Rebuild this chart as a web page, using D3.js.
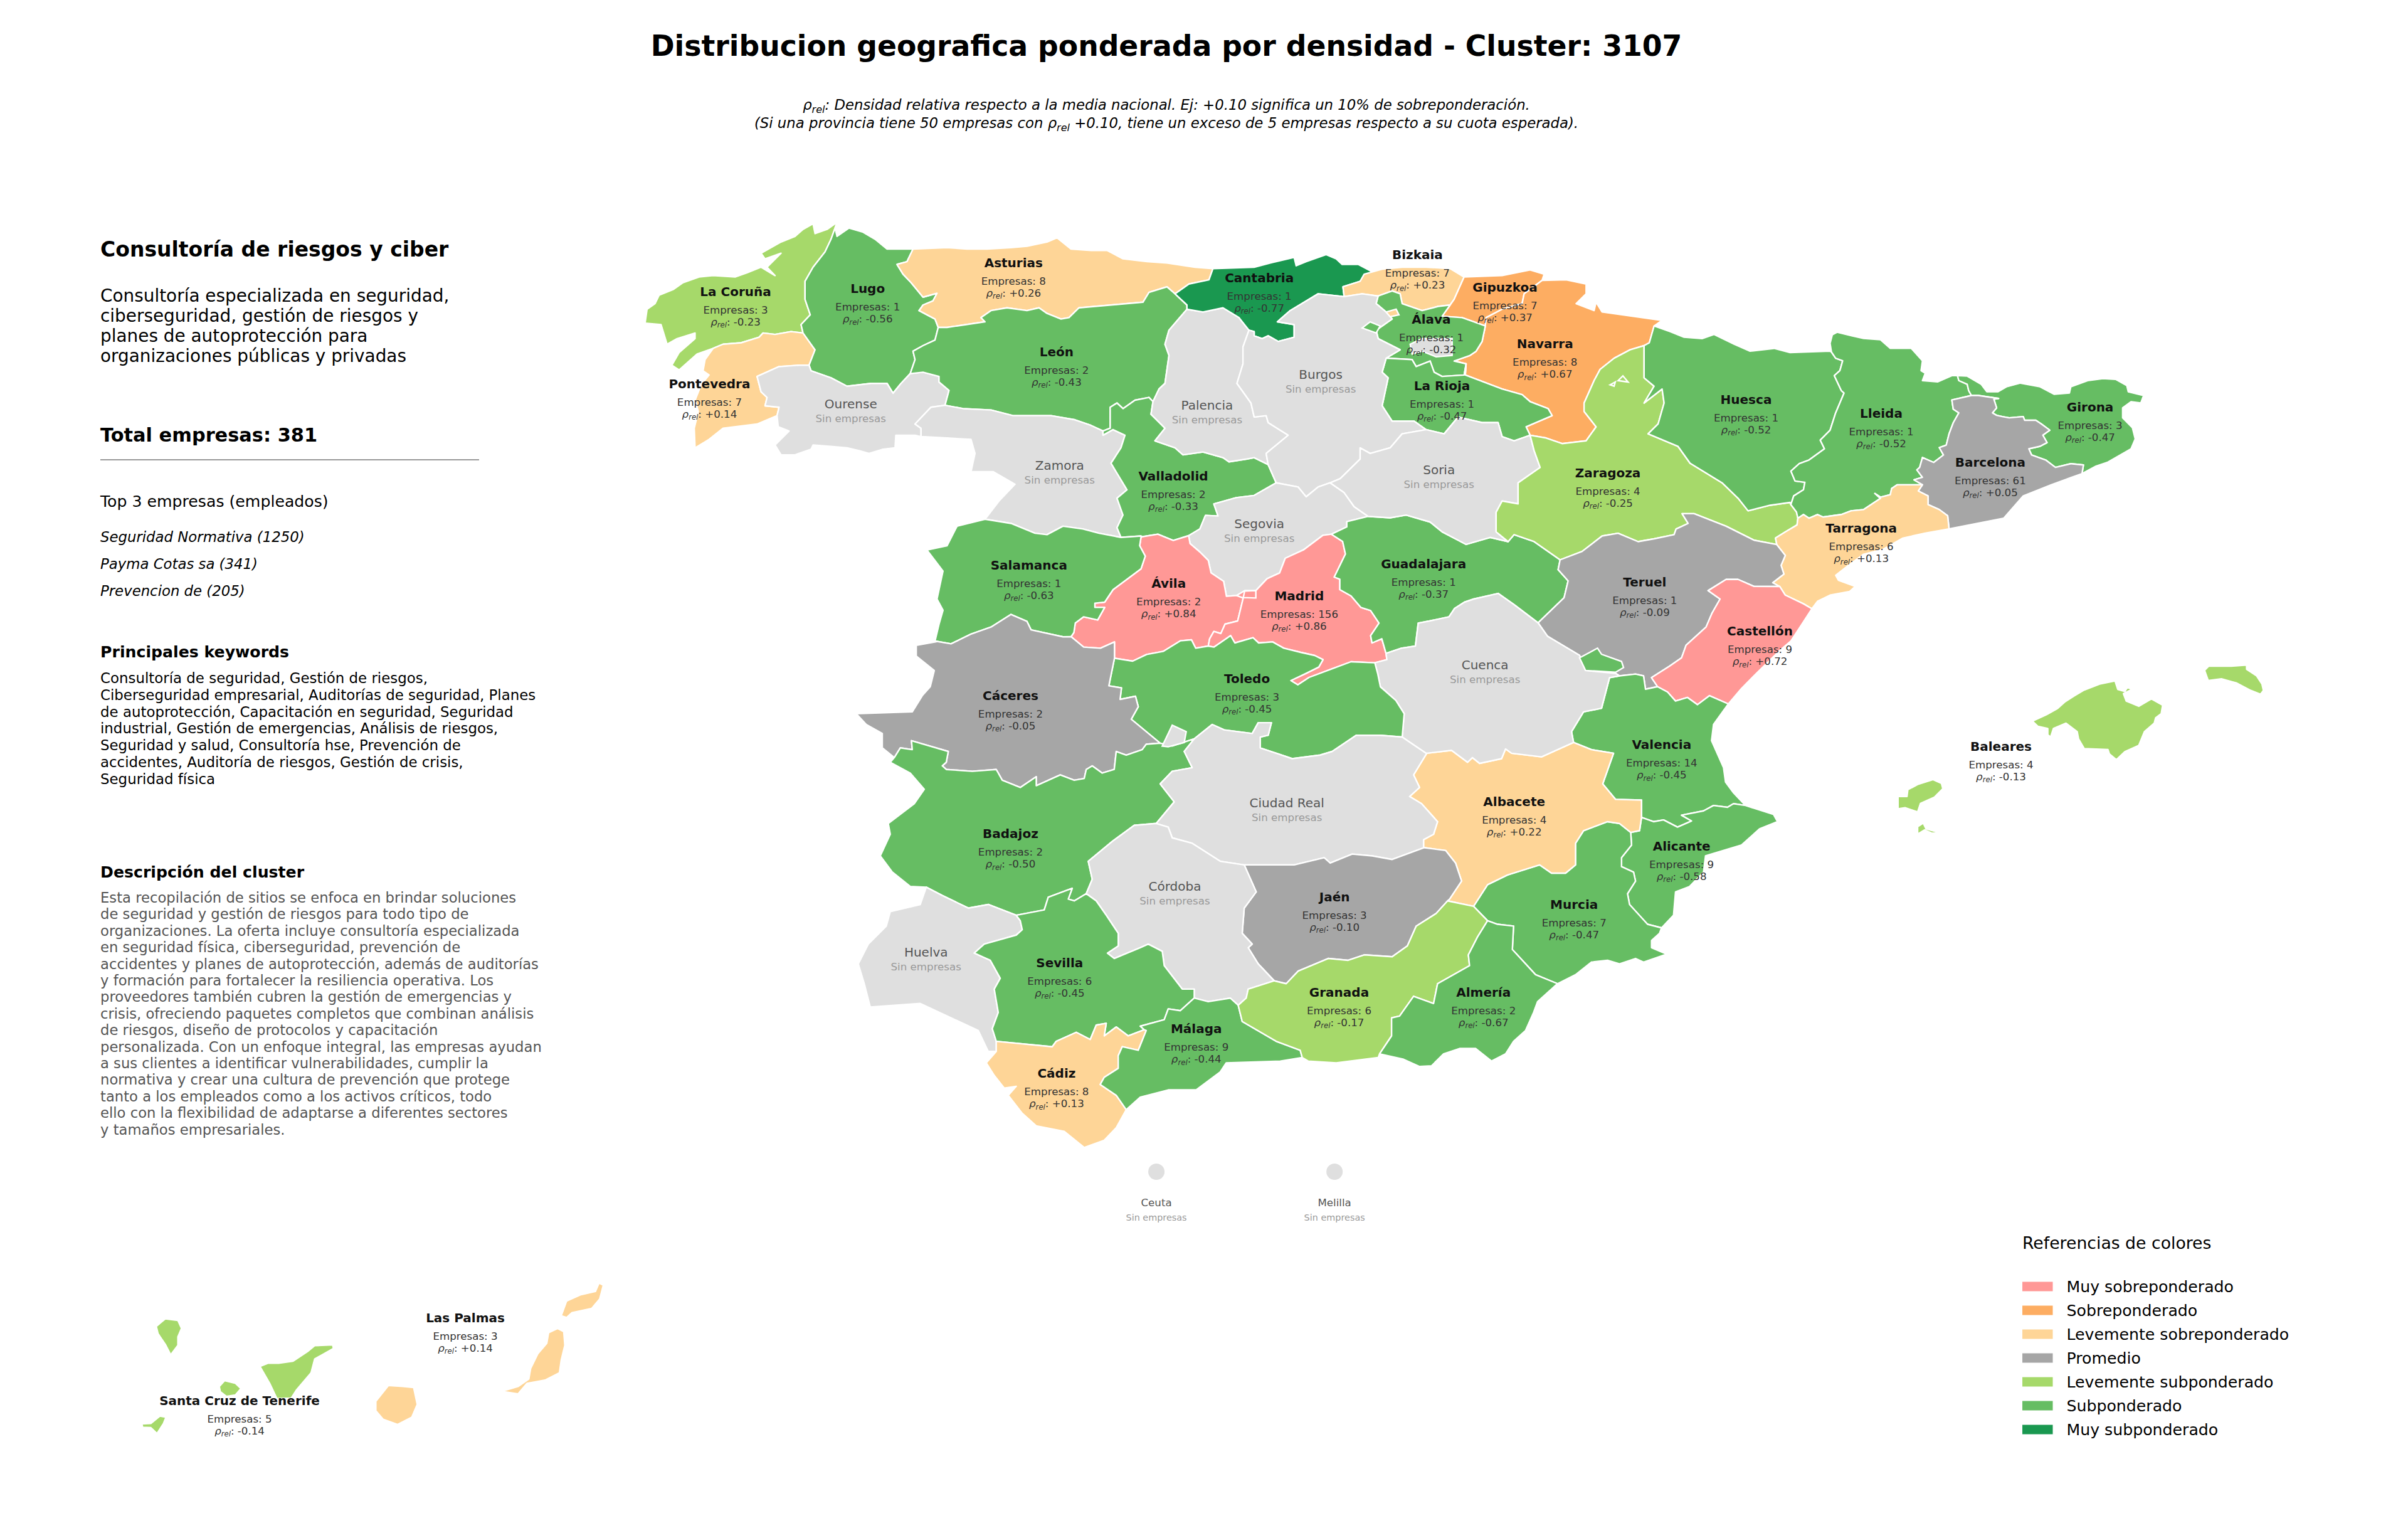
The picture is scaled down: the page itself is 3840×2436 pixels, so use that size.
<!DOCTYPE html>
<html><head><meta charset="utf-8">
<script src="https://cdn.jsdelivr.net/npm/d3@7"></script>
<style>html,body{margin:0;background:#fff}svg{display:block}text{font-family:"DejaVu Sans"}</style>
</head><body><svg id="c" width="3840" height="2436"></svg>
<script>
// ---------- chart values ----------
const provinces = ["La Coruña","Pontevedra","Lugo","Ourense","Asturias","León","Zamora","Valladolid","Palencia","Cantabria","Bizkaia","Gipuzkoa","Navarra","Álava","La Rioja","Burgos","Segovia","Ávila","Madrid","Guadalajara","Soria","Zaragoza","Huesca","Lleida","Girona","Barcelona","Tarragona","Teruel","Castellón","Valencia","Alicante","Murcia","Albacete","Cuenca","Toledo","Salamanca","Cáceres","Badajoz","Ciudad Real","Jaén","Córdoba","Huelva","Sevilla","Cádiz","Málaga","Granada","Almería","Baleares","Las Palmas","Santa Cruz de Tenerife"];
const empresas = [3,7,1,null,8,2,null,2,null,1,7,7,8,1,1,null,null,2,156,1,null,4,1,1,3,61,6,1,9,14,9,7,4,null,3,1,2,2,null,3,null,null,6,8,9,6,2,4,3,5];
const rhoRel = [-0.23,0.14,-0.56,null,0.26,-0.43,null,-0.33,null,-0.77,0.23,0.37,0.67,-0.32,-0.47,null,null,0.84,0.86,-0.37,null,-0.25,-0.52,-0.52,-0.47,0.05,0.13,-0.09,0.72,-0.45,-0.58,-0.47,0.22,null,-0.45,-0.63,-0.05,-0.50,null,-0.10,null,null,-0.45,0.13,-0.44,-0.17,-0.67,-0.13,0.14,-0.14];
const labelX = [479,462,565,554,660,688,690,764,786,820,923,980,1006,932,939,860,820,761,846,927,937,1047,1137,1225,1361,1296,1212,1071,1146,1082,1095,1025,986,967,812,670,658,658,838,869,765,603,690,688,779,872,966,1303,303,156];
const labelY = [190,250,188,263,171,229,303,310,264,181,166,187,224,208,251,244,341,380,388,367,306,308,260,269,265,301,344,379,411,485,551,589,522,433,442,368,453,543,523,584,577,620,627,699,670,646,646,486,858,912];
const legendLabels = ["Muy sobreponderado","Sobreponderado","Levemente sobreponderado","Promedio","Levemente subponderado","Subponderado","Muy subponderado"];
const legendColors = ["#ff9896","#fdad62","#fed597","#a6a6a6","#a6d96a","#66bd63","#1a9850"];
const noDataColor = "#dfdfdf";
const autonomousCities = ["Ceuta","Melilla"];
const citiesX = [753,869];
const densityColor = d3.scaleThreshold().domain([-0.7,-0.3,-0.12,0.1,0.3,0.7]).range(legendColors.slice().reverse());

// ---------- map outlines: shared borders, one string per border, in six map sheets ----------
const sheets = {
 A:[[0,1568],[1000,2000],[0,1568],[330,1030]], B:[[0,1568],[2000,3000],[0,1568],[330,1030]],
 C:[[0,1568],[1340,2340],[0,1568],[1000,1900]], D:[[0,1568],[2200,3200],[0,1568],[1000,1900]],
 E:[[0,1568],[100,1000],[0,1010],[2000,2340]], F:[[0,1568],[3000,3700],[0,1039],[1030,1380]],
 G:[[0,1568],[2780,3480],[0,1568],[500,1120]], H:[[0,1568],[1650,2350],[0,1200],[780,1180]]
};
const borders = {
gaC:"A 525,55 500,80 470,95 465,60 440,80 420,105 385,125 335,165 345,185 385,165 350,215 370,245 335,215 300,235 270,250 215,245 180,250 140,270 115,295 80,315 70,345 50,365 45,415 85,420 100,490 125,470 170,450 170,470 130,520 112,565 130,582 175,525 215,505",
gaPo:"A 215,505 240,490 285,485 330,465 340,450 370,455 410,445 440,450",
gaLu:"A 440,450 435,420 458,385 445,330 445,265 465,215 495,160 510,115 525,55",
poC:"A 215,505 195,545 190,585 205,600 185,635 170,690 178,730 168,790 170,860 205,830 240,790 325,775 375,745",
poLu:"A 440,450 470,510 455,565",
poOu:"A 455,565 430,565 380,570 325,605 335,660 350,680 345,710 380,715 375,745",
luC:"A 525,55 520,75 525,105 555,75 590,90 620,115 650,150 715,150",
luAs:"A 715,150 700,195 675,205 690,240 710,270 740,322 775,308 765,335 740,350 730,370 770,400 778,430",
luLe:"A 778,430 770,475 740,495 715,515 720,545 708,595",
luOu:"A 708,595 685,630 665,665 650,630 610,630 580,635 550,640 510,610 460,585 455,565",
ouS:"A 375,745 378,785 405,800 370,850 385,885 420,885 460,865 465,850 510,855 550,860 580,870 605,880 640,865 670,860 672,815 720,815 735,820",
ouZa:"A 735,820 735,790 720,775 760,715 795,708",
ouLe:"A 795,708 805,655 780,625 780,605 740,590 708,595",
asC:"A 715,150 800,145 850,150 900,150 960,145 1000,140 1050,125 1075,110 1110,150 1160,155 1200,155 1240,185 1300,195 1350,200 1420,215 1465,220",
asCa:"A 1465,220 1455,260 1405,275 1370,310",
asLe:"A 1370,310 1350,285 1305,305 1290,340 1210,350 1130,360 1105,395 1085,400 1050,380 1030,360 1000,370 950,360 910,370 885,395 895,410 800,430 778,430",
leCa:"A 1370,310 1400,350 1400,365",
lePa:"A 1400,365 1355,440 1345,490 1355,530 1345,630 1330,650 1315,695",
leVa:"A 1315,695 1305,680 1270,690 1240,720 1225,700 1208,715 1208,790 1190,800",
leZa:"A 1190,800 1160,780 1120,760 1060,745 1020,745 965,745 910,725 840,720 795,708",
zaV:"A 1190,800 1190,815 1215,795 1245,815 1235,860 1210,915 1250,1010 1225,1040 1240,1100 1225,1145 1235,1180",
zaSa:"A 1235,1180 1180,1165 1140,1150 1090,1140 1050,1170 1020,1165 960,1130 895,1115",
zaPt:"A 895,1115 930,1050 970,990 915,945 860,945 870,880 860,830 800,825 735,820",
vaSa:"A 1235,1180 1285,1175",
vaAv:"H 380,228 440,215 495,245 550,222",
vaSe:"H 550,222 590,190 610,125 655,128 640,70 720,40 | B 0,1030 55,985",
vaBu:"B 55,985 35,920",
vaPa:"B 35,920 0,895 | A 1550,900 1505,910 1490,895 1440,875 1390,885 1370,860 1320,835 1345,790 1310,740 1315,695",
paCa:"A 1400,365 1440,375 1490,360 1530,395 1555,440",
paBu:"A 1555,440 1540,500 1540,560 1525,630 1560,700 | B 0,750 30,745 35,770 85,815 30,880 35,920",
caC:"A 1465,220 1568,215 | B 40,200 100,180 105,210 130,195 180,170 205,185 220,205 260,205 300,235 300,250 222,285",
caBi:"B 222,285 225,320",
caBu:"B 225,320 160,310 90,370 58,410 100,420 100,465 60,480 35,460 20,470 0,460 | A 1568,445 1555,440",
biC:"B 222,285 265,265 275,240 320,222 370,215 430,215 490,220 525,250",
biGi:"B 525,250 500,330 490,350",
biAl:"B 490,350 460,355 420,370 370,345 365,310 345,300 310,318",
biBu:"B 310,318 270,310 225,320",
giC:"B 525,250 620,245 690,225 725,240 720,262",
giNa:"B 720,262 675,310 670,345 620,365 580,395 578,425",
giAl:"B 578,425 520,395 470,390 490,350",
naC:"B 720,262 780,260 830,275 830,310 805,345 850,370 855,340 870,375 920,385 1020,405 1000,425",
naHu:"B 1000,425 988,485 975,495",
naZa:"B 975,495 940,510 900,540 865,580 850,620 825,700 825,730 855,785 830,835 770,845 730,825 690,815",
naRi:"B 690,815 680,785 745,745 735,720 690,695 670,670 620,650 528,600 530,560",
naAl:"B 530,560 500,550 540,530 555,515 570,480 578,425",
alBu:"B 310,318 305,345 330,375 345,400 305,440 310,470 365,510 330,540",
alRi:"B 330,540 395,545 405,570 440,550 450,590 470,605 525,600 530,560",
riBu:"B 330,540 320,590 335,610 320,710 345,765 400,765 430,795",
riSo:"B 430,795 475,810 510,750 570,770 610,770 620,820 650,835 690,815",
buSo:"B 430,795 370,810 340,860 290,880 265,860 265,900 215,970 190,985",
buSe:"B 190,985 160,1000 130,1035 110,1000 55,985",
seSo:"B 190,985 225,1020 250,1070 285,1105",
seGu:"H 1190,130 1115,155 1115,180 1060,215",
seMa:"H 1060,215 1030,220 960,290 895,330 875,400 830,428 790,485 750,485 722,508",
seAv:"H 722,508 685,512 675,440 630,400 620,340 590,300 555,260 550,222",
avSa:"H 380,228 375,270 395,320 380,380 280,480 250,540 215,545 215,565 250,565 225,625 175,610 145,640 140,685 130,705",
avCc:"H 130,705 175,755 235,760 285,730 285,808",
avTo:"H 285,808 350,822 400,790 460,775 520,725 560,720 575,760 620,750",
avMa:"H 620,750 625,715 640,680 665,690 680,645 725,630 745,520 722,508",
maTo:"H 620,750 640,755 700,700 715,735 780,710 800,735 850,730 890,760 950,780 1000,795 1030,815 1015,850 970,880 915,915 940,935 980,900 1060,860 1130,825 1215,830",
maCu:"H 1215,830 1258,815 1255,785",
maGu:"H 1255,785 1240,715 1205,735 1200,700 1230,640 1200,580 1165,565 1130,510 1090,480 1090,430 1070,420 1110,310 1100,250 1060,215",
guSo:"B 285,1105 340,1110 380,1100 440,1125 470,1160 510,1190 530,1205 590,1180 635,1195",
guZa:"B 635,1195 650,1170 700,1195 765,1260",
guTe:"B 765,1260 760,1295 785,1335 775,1395 710,1485",
guCu:"B 710,1485 650,1420 610,1380 549,1400 | H 1535,540 1500,570 1480,610 1410,630 1370,640 1360,750 1310,760 1255,785",
soZa:"B 690,815 700,870 715,930 660,985 660,1060 620,1050 605,1090 605,1160 635,1195",
zaHu:"B 975,495 975,610 1000,640 975,700 1020,650 1025,700 1010,775 985,810 1060,855 1090,915 1170,985 1210,1040 1235,1085 1290,1065 1340,1055",
zaLl:"G 170,770 190,800 195,825",
zaTa:"G 195,825 192,852 150,880 115,905 120,932",
zaTe:"B 1305,1205 1250,1190 1180,1140 1100,1095 1070,1095 1085,1130 1055,1150 1050,1170 1000,1185 960,1195 910,1165 870,1175 820,1230 765,1260",
huC:"B 1000,425 1040,445 1075,465 1120,470 1150,455 1200,490 1240,515 1300,505 1340,520 1440,515",
huLl:"G 315,155 330,180 355,190 345,230 325,250 350,310 360,320 330,400 310,470 275,510 290,545 235,590 200,605 170,635 185,675 220,680 215,710 180,735 170,770",
llC:"G 315,155 310,120 318,85 335,75 390,90 430,100 490,105 525,140 600,140 640,190 635,230 650,240 640,270 695,275 745,250 765,250",
llGi:"G 765,250 770,270 800,285 805,310 815,330",
llBa:"G 815,330 745,348 750,385 770,400 750,440 735,485 725,530 700,540 715,570 680,600 640,580 630,620 620,630 640,660 610,670 640,690",
llTa:"G 640,690 550,690 530,705 525,730 490,740 470,725 490,745 430,790 385,795 350,810 285,820 265,810 235,825 215,810 195,825",
grC:"G 765,250 800,252 850,285 870,315 910,315 940,295 990,280 1060,295 1110,325 1165,320 1170,295 1230,270 1285,262 1330,265 1370,290 1375,315 1430,330 1420,360 1385,355 1355,380 1355,420 1390,460 1400,505 1385,545 1300,600 1260,615 1210,645",
grBa:"G 1210,645 1215,610 1170,605 1115,620 1080,590 1030,570 1020,545 1060,535 1085,520 1070,490 1095,470 1065,445 1045,430 1005,430 1000,415 950,420 925,415 905,410 890,400 905,380 895,345 912,342 840,330 815,330",
baC:"G 1210,645 1100,690 1000,735 930,825 735,868",
baTa:"G 735,868 730,815 700,790 660,770 660,735 625,715 640,690",
taC:"G 735,868 650,885 570,905 500,950 430,970 370,1020 330,1055 340,1075 400,1100 380,1120 310,1135 265,1160 245,1190",
taCs:"G 245,1190 215,1170 150,1135 130,1100",
taTe:"G 130,1100 105,1085 145,1050 135,1015 150,975 120,932",
teCs:"G 130,1100 | B 1250,1355 1210,1330 1180,1330 1135,1370 1165,1400 1145,1450 1130,1500 1080,1565 | D 755,85 725,108 680,140 695,165",
teVa:"D 600,135 640,130 660,135 665,172 695,165",
teCu:"B 710,1485 | D 420,25 500,78 515,120 590,128 600,135",
csC:"G 245,1190 205,1260 170,1320 | D 1000,65 945,125 905,170 872,213",
csVa:"D 872,213 825,190 795,215 770,195 740,205 720,180 695,165",
vlC:"D 872,213 835,270 830,315 860,390 865,430 885,460 915,495",
vlAl:"D 915,495 885,490 870,500 835,495 810,510 755,522 780,538 745,555 710,535 685,540 655,528",
vlAb:"D 655,528 655,480 590,478 558,435 585,350 530,340 485,320",
vlCu:"D 485,320 480,290 510,235 555,225 575,140 600,135",
acC:"D 915,495 985,520 995,540 950,560 905,605 815,635 810,680 775,720 740,735 735,800 705,835",
acMu:"D 705,835 670,825 625,770 620,740 640,705 635,680 605,665 605,640 630,605 628,570",
acAb:"D 628,570 650,565 655,528",
muC:"D 705,835 700,850 680,870 680,890 718,908 660,930 640,920 600,935 570,925 530,930 490,965 445,990",
muAl:"D 445,990 390,965 332,895 335,830 295,825 270,815",
muGr:"D 270,815 235,775",
muAb:"D 235,775 270,715 320,688 400,660 430,683 465,683 490,660 490,600 510,565 570,540 600,545 628,570",
abCu:"D 485,320 405,360 330,350 315,338 305,365 250,378 232,362 220,375 180,342 118,350",
abCr:"D 118,350 85,410 100,445 75,470 105,490 145,540 135,575 110,590 110,612",
abJa:"D 110,612 165,620 190,655 205,705 175,755 170,760",
abGr:"D 170,760 235,775",
cuCr:"C 1465,350 1425,320 1405,305",
cuTo:"C 1405,305 1410,240 | H 1290,1010 1235,945 1225,880 1215,830",
toCc:"H 285,808 265,940 310,950 305,1005 360,990 370,1040 345,1100 | C 800,322",
toBa:"C 800,322 830,330 885,310",
toCr:"C 885,310 930,270 960,285 1030,295 1045,265 1078,265 1070,300 1050,305 1050,335 1130,365 1200,355 1230,345 1290,300 1350,300 1405,305",
saCc:"H 130,705 | A 1090,1535 1010,1510 1000,1480 960,1455 910,1500 860,1525 810,1560 770,1550",
saPt:"A 770,1550 780,1490 790,1440 775,1400 790,1300 750,1225 800,1210 825,1140 895,1115",
ccPt:"C 240,40 190,50 190,80 235,120 225,165 205,190 180,235 40,240 65,270 105,295 105,335 135,362",
ccBa:"C 135,362 150,335 180,340 178,315 270,345 265,375 255,385 265,395 330,400 390,395 405,425 450,445 490,415 490,440 550,410 585,425 610,420 615,395 630,385 655,405 685,395 690,345 715,355 755,340 765,325 800,322",
bdCr:"C 885,310 860,345 880,390 830,400 800,435 835,485 790,545",
bdCo:"C 790,545 735,550 680,595 620,650 630,700 615,740",
bdSe:"C 615,740 585,760 570,755 580,725 520,750 510,785 440,800",
bdHu:"C 440,800 370,770 320,780 255,745 215,722",
bdPt:"C 215,722 175,720 130,680 100,635 125,575 120,545 185,490 210,450 175,405 125,375 135,362",
crJa:"C 1460,612 1380,645 1330,635 1280,630 1225,655 1210,640 1135,660 1010,660",
crCo:"C 1010,660 950,650 880,600 830,585 820,555 790,545",
jaGr:"D 170,760 | C 1490,795 1440,830 1418,885 1380,915 1310,910 1270,925 1220,920 1145,955 1115,990 1085,982",
jaCo:"C 1085,982 1045,935 1020,890 1030,880 1005,850 1010,780 1040,735 1030,710 1010,660",
coGr:"C 1085,982 1020,1005 1015,1030 995,1050",
coMa:"C 995,1050 975,1030 920,1040 885,1030",
coSe:"C 885,1030 885,1005 855,1005 810,940 805,900 770,880 750,890 685,920 668,905 695,885 695,850 665,800 640,760 615,740",
hvPt:"C 215,722 200,770 125,790 115,830 70,880 45,935 60,990 75,1055 200,1045 345,1120 370,1178 390,1178",
hvCa:"C 390,1178 390,1150",
hvSe:"C 390,1150 380,1115 395,1070 385,1005 400,975 375,925 335,905 360,880 440,855 455,840 450,815 440,800",
seCa:"C 390,1150 530,1165 540,1150 590,1125 625,1145 640,1105 665,1100 660,1135 690,1110 720,1135 760,1118",
seMl:"C 760,1118 750,1108 810,1090 820,1060 850,1065 885,1030",
cdC:"C 390,1178 365,1210 385,1245 410,1280 440,1275 420,1300 455,1350 490,1385 560,1400 610,1445 660,1425 690,1390 715,1340",
cdMa:"C 715,1340 690,1300 650,1270 660,1250 695,1225 695,1190 705,1165 745,1175 765,1120 760,1118",
mlC:"C 715,1340 750,1305 820,1285 890,1285 950,1235 965,1210 1100,1205 1155,1195",
mlGr:"C 1155,1195 1150,1175 1090,1150 1005,1095 995,1050",
glC:"C 1155,1195 1170,1205 1240,1210 1345,1195",
grAm:"D 0,1185 30,1135 30,1085 50,1080 85,1025 135,1045 145,990 225,940 222,910 245,860 270,815",
amC:"D 445,990 395,1040 385,1070 365,1120 335,1150 315,1185 280,1205 240,1170 200,1170 160,1185 130,1218 100,1220 60,1200 0,1185",
mallorca:"F 540,355 590,325 630,295 655,265 690,235 725,208 780,180 835,165 845,205 870,215 880,195 895,205 865,225 875,260 920,285 965,250 1005,280 1000,320 980,340 975,365 940,405 920,470 870,500 840,538 815,510 810,490 725,485 705,440 700,405 660,365 615,390 605,430 595,420 595,390 560,380",
menorca:"F 1155,115 1170,95 1250,95 1305,90 1305,110 1340,140 1360,180 1365,210 1355,228 1320,210 1270,175 1215,155 1168,163",
ibiza:"F 60,712 92,712 95,680 130,655 185,632 215,650 220,675 190,715 140,745 130,785 85,765 60,770",
formentera:"F 130,855 150,838 160,865 205,882 180,885 155,870 130,890",
cabrera:"F 782,612 792,610 795,618 785,618",
laPalma:"E 260,340 285,305 320,312 330,350 320,390 320,430 300,475 285,425 265,375",
tenerife:"E 548,530 570,515 600,515 640,505 680,460 700,432 750,428 752,445 700,495 690,560 650,640 635,680 595,682 575,610",
gomera:"E 435,625 450,597 480,610 495,635 480,665 455,672 438,650",
hierro:"E 220,802 245,800 270,765 287,770 280,800 262,848 245,820 222,818",
granCanaria:"E 870,695 905,620 945,625 975,630 985,710 970,770 930,805 890,780 870,740",
fuerteventura:"E 1350,370 1375,350 1392,365 1395,430 1385,500 1380,560 1340,595 1290,610 1265,660 1220,648 1265,625 1295,590 1300,540 1320,470 1345,420",
lanzarote:"E 1400,220 1440,190 1480,175 1490,135 1502,145 1492,210 1470,255 1415,275 1400,298 1385,290",
alegranza:"E 1480,110 1486,125 1480,130",
trevino:"B 390,490 420,470 495,470 495,530 455,535 420,515 395,525",
valdegovia:"B 270,432 290,410 315,425 305,450",
orduna:"B 330,375 355,365 362,385 340,392",
petilla1:"B 890,635 903,625 900,640",
petilla2:"B 910,620 922,603 935,625",
ademuz:"D 500,85 545,58 555,75 605,95 610,112 590,125 515,120",
madridPiece:"H 745,518 750,487 790,485 790,520",
crPocket:"C 805,330 830,272 865,290 860,320 820,332"
};
const provinceBorders = {
"La Coruña":"gaC gaPo gaLu","Pontevedra":"gaPo poLu poOu -poC","Lugo":"luC luAs luLe luOu -poLu gaLu","Ourense":"ouS ouZa ouLe luOu poOu",
"Asturias":"asC asCa asLe -luAs","León":"-asLe leCa lePa leVa leZa ouLe -luLe","Zamora":"ouZa -leZa zaV zaSa zaPt",
"Valladolid":"leVa zaV vaSa vaAv vaSe vaBu vaPa","Palencia":"-lePa paCa paBu vaPa","Cantabria":"caC caBi caBu -paCa -leCa -asCa",
"Bizkaia":"biC biGi biAl biBu -caBi","Gipuzkoa":"giC giNa giAl -biGi","Navarra":"naC naHu naZa naRi naAl -giNa","Álava":"biAl alBu alRi naAl giAl",
"La Rioja":"-alRi riBu riSo naRi","Burgos":"-caBu -biBu alBu riBu buSo buSe vaBu -paBu","Segovia":"-buSe seSo seGu seMa seAv vaSe",
"Ávila":"vaAv -seAv -avMa -avTo -avCc -avSa","Madrid":"seMa -avMa maTo maCu maGu","Guadalajara":"-seGu guSo guZa guTe guCu maGu","Soria":"riSo soZa -guSo -seSo -buSo",
"Zaragoza":"zaHu zaLl zaTa zaTe -guZa -soZa -naZa","Huesca":"huC huLl -zaHu -naHu","Lleida":"llC llGi llBa llTa -zaLl -huLl","Girona":"grC grBa -llGi",
"Barcelona":"-grBa baC baTa -llBa","Tarragona":"llTa zaTa -taTe -taCs -taC baTa","Teruel":"-zaTe -taTe teCs -teVa -teCu -guTe","Castellón":"teCs -csVa -csC taCs",
"Valencia":"teVa -csVa vlC vlAl vlAb vlCu","Alicante":"acC acMu acAb -vlAl","Murcia":"muC muAl muGr muAb -acMu","Albacete":"abCu abCr abJa abGr muAb acAb vlAb",
"Cuenca":"teCu -vlCu abCu cuCr cuTo maCu -guCu","Toledo":"avTo maTo -cuTo -toCr -toBa -toCc","Salamanca":"-zaSa vaSa avSa saCc saPt","Cáceres":"-saCc avCc toCc -ccBa -ccPt",
"Badajoz":"ccBa toBa bdCr bdCo bdSe bdHu bdPt","Ciudad Real":"toCr -cuCr abCr crJa crCo -bdCr","Jaén":"-crJa abJa jaGr jaCo","Córdoba":"-crCo -jaCo coGr coMa coSe -bdCo",
"Huelva":"-bdHu -hvSe -hvCa -hvPt","Sevilla":"bdSe -hvSe seCa seMl coSe","Cádiz":"hvCa seCa -cdMa -cdC","Málaga":"seMl -coMa -mlGr -mlC cdMa",
"Granada":"abGr -muGr -grAm -glC mlGr -coGr -jaGr","Almería":"grAm -muAl amC",
"Baleares":"mallorca|menorca|ibiza|formentera|cabrera","Las Palmas":"granCanaria|fuerteventura|lanzarote|alegranza","Santa Cruz de Tenerife":"laPalma|tenerife|gomera|hierro"
};
const enclaves = [["trevino",null],["valdegovia","Álava"],["orduna","Bizkaia"],["petilla1","Zaragoza"],["petilla2","Zaragoza"],["ademuz","Valencia"],["madridPiece","Madrid"],["crPocket",null]];

// ---------- text of the side panel ----------
const clusterName = "Consultoría de riesgos y ciber";
const clusterSummary = ["Consultoría especializada en seguridad,","ciberseguridad, gestión de riesgos y","planes de autoprotección para","organizaciones públicas y privadas"];
const totalLabel = "Total empresas: 381";
const topTitle = "Top 3 empresas (empleados)";
const topCompanies = ["Seguridad Normativa (1250)","Payma Cotas sa (341)","Prevencion de (205)"];
const keywordsTitle = "Principales keywords";
const keywordLines = ["Consultoría de seguridad, Gestión de riesgos,","Ciberseguridad empresarial, Auditorías de seguridad, Planes","de autoprotección, Capacitación en seguridad, Seguridad","industrial, Gestión de emergencias, Análisis de riesgos,","Seguridad y salud, Consultoría hse, Prevención de","accidentes, Auditoría de riesgos, Gestión de crisis,","Seguridad física"];
const descTitle = "Descripción del cluster";
const descLines = ["Esta recopilación de sitios se enfoca en brindar soluciones","de seguridad y gestión de riesgos para todo tipo de","organizaciones. La oferta incluye consultoría especializada","en seguridad física, ciberseguridad, prevención de","accidentes y planes de autoprotección, además de auditorías","y formación para fortalecer la resiliencia operativa. Los","proveedores también cubren la gestión de emergencias y","crisis, ofreciendo paquetes completos que combinan análisis","de riesgos, diseño de protocolos y capacitación","personalizada. Con un enfoque integral, las empresas ayudan","a sus clientes a identificar vulnerabilidades, cumplir la","normativa y crear una cultura de prevención que protege","tanto a los empleados como a los activos críticos, todo","ello con la flexibilidad de adaptarse a diferentes sectores","y tamaños empresariales."];
const titleText = "Distribucion geografica ponderada por densidad - Cluster: 3107";

// ---------- build ----------
const svg = d3.select("#c");
svg.append("rect").attr("width",3840).attr("height",2436).attr("fill","#fff");
const sheetScale = {};
for (const k in sheets){const s=sheets[k];sheetScale[k]={x:d3.scaleLinear().domain(s[0]).range(s[1]),y:d3.scaleLinear().domain(s[2]).range(s[3])};}
function parseBorder(str){
  const pts=[];
  str.split("|").forEach(part=>{
    const t=part.trim().split(/\s+/),sc=sheetScale[t[0]];
    t.slice(1).forEach(p=>{const [a,b]=p.split(",").map(Number);pts.push([sc.x(a),sc.y(b)]);});
  });
  return pts;
}
const parsed={};for(const k in borders)parsed[k]=parseBorder(borders[k]);
function ring(spec){
  let out=[];
  spec.trim().split(/\s+/).forEach(r=>{
    const rev=r[0]==="-",p=parsed[rev?r.slice(1):r];
    out=out.concat(rev?p.slice().reverse():p);
  });
  out.push(out[0]);return out;
}
function feature(name){
  const polys=provinceBorders[name].split("|").map(s=>[ring(s)]);
  return {type:"Feature",properties:{name},geometry:{type:"MultiPolygon",coordinates:polys}};
}
const path=d3.geoPath(d3.geoIdentity());
const fillOf=i=>rhoRel[i]===null?noDataColor:densityColor(rhoRel[i]);
const stroke="#fff",sw=2.4;
const gMap=svg.append("g");
gMap.selectAll("path.p").data(provinces).join("path").attr("class","p")
  .attr("d",n=>path(feature(n))).attr("fill",(n,i)=>fillOf(i)).attr("stroke",stroke).attr("stroke-width",sw).attr("stroke-linejoin","round");
gMap.selectAll("path.e").data(enclaves).join("path").attr("class","e")
  .attr("d",e=>path({type:"Polygon",coordinates:[ring(e[0])]}))
  .attr("fill",e=>e[1]?fillOf(provinces.indexOf(e[1])):noDataColor).attr("stroke",stroke).attr("stroke-width",sw);

const X=d3.scaleLinear().domain([0,1568]).range([0,3840]);
const Y=d3.scaleLinear().domain([0,995]).range([0,2436]);
gMap.selectAll("circle").data(autonomousCities).join("circle")
  .attr("cx",(d,i)=>X(citiesX[i])).attr("cy",Y(763)).attr("r",13).attr("fill",noDataColor);

// labels
function rhoText(sel,val,size,fill,x){
  sel.attr("font-size",size).attr("fill",fill).attr("text-anchor","middle").attr("x",x);
  sel.append("tspan").attr("font-style","italic").text("ρ");
  sel.append("tspan").attr("font-style","italic").attr("font-size",size*0.7).attr("dy",size*0.2).text("rel");
  sel.append("tspan").attr("dy",-size*0.2).text(": "+(val>=0?"+":"")+val.toFixed(2));
}
const gL=svg.append("g");
provinces.forEach((n,i)=>{
  const x=X(labelX[i]),y=Y(labelY[i]);
  if(empresas[i]===null){
    gL.append("text").attr("x",x).attr("y",y+7).attr("text-anchor","middle").attr("font-size",20).attr("fill","#555").text(n);
    gL.append("text").attr("x",x).attr("y",y+29).attr("text-anchor","middle").attr("font-size",16.67).attr("fill","#999").text("Sin empresas");
  } else {
    gL.append("text").attr("x",x).attr("y",y+7).attr("text-anchor","middle").attr("font-size",20).attr("font-weight","bold").attr("fill","#111").text(n);
    gL.append("text").attr("x",x).attr("y",y+35).attr("text-anchor","middle").attr("font-size",16.67).attr("fill","#333").text("Empresas: "+empresas[i]);
    rhoText(gL.append("text").attr("y",y+54),rhoRel[i],16.67,"#333",x);
  }
});
autonomousCities.forEach((n,i)=>{
  gL.append("text").attr("x",X(citiesX[i])).attr("y",Y(783)+6).attr("text-anchor","middle").attr("font-size",16.67).attr("fill","#555").text(n);
  gL.append("text").attr("x",X(citiesX[i])).attr("y",Y(792)+7).attr("text-anchor","middle").attr("font-size",14.4).attr("fill","#999").text("Sin empresas");
});

// title
svg.append("text").attr("x",1860).attr("y",89).attr("text-anchor","middle").attr("font-size",45.7).attr("font-weight","bold").attr("fill","#000").text(titleText);
function subtitleLine(y,before,after){
  const t=svg.append("text").attr("x",1860).attr("y",y).attr("text-anchor","middle").attr("font-size",22.8).attr("font-style","italic").attr("fill","#000");
  if(before) t.append("tspan").text(before);
  t.append("tspan").text("ρ");
  t.append("tspan").attr("font-size",16).attr("dy",5).text("rel");
  t.append("tspan").attr("dy",-5).text(after);
}
subtitleLine(175,"",": Densidad relativa respecto a la media nacional. Ej: +0.10 significa un 10% de sobreponderación.");
subtitleLine(204,"(Si una provincia tiene 50 empresas con "," +0.10, tiene un exceso de 5 empresas respecto a su cuota esperada).");

// side panel
const left=160;
function line(y,txt,size,opt={}){
  return svg.append("text").attr("x",left).attr("y",y).attr("font-size",size).attr("font-weight",opt.bold?"bold":"normal")
   .attr("font-style",opt.italic?"italic":"normal").attr("fill",opt.fill||"#000").text(txt);
}
line(409,clusterName,33,{bold:true});
clusterSummary.forEach((t,i)=>line(480.5+i*32,t,27.9));
line(704,totalLabel,30.4,{bold:true});
svg.append("line").attr("x1",left).attr("x2",764).attr("y1",733).attr("y2",733).attr("stroke","#999").attr("stroke-width",2);
line(808,topTitle,25.2);
topCompanies.forEach((t,i)=>line(864+i*42.8,t,22.8,{italic:true}));
line(1048,keywordsTitle,25.2,{bold:true});
keywordLines.forEach((t,i)=>line(1089+i*26.8,t,22.9));
line(1399,descTitle,25.2,{bold:true});
descLines.forEach((t,i)=>line(1439+i*26.4,t,22.7,{fill:"#555"}));

// legend
const lg=svg.append("g");
lg.append("text").attr("x",3225).attr("y",1991).attr("font-size",26.7).attr("fill","#000").text("Referencias de colores");
const ly=d3.scalePoint().domain(legendLabels).range([2051,2279]);
lg.selectAll("rect").data(legendLabels).join("rect").attr("x",3225).attr("y",d=>ly(d)-7.5).attr("width",48.5).attr("height",15).attr("fill",(d,i)=>legendColors[i]);
lg.selectAll("text.l").data(legendLabels).join("text").attr("class","l").attr("x",3295.5).attr("y",d=>ly(d)+9).attr("font-size",25.2).attr("fill","#000").text(d=>d);
</script></body></html>
